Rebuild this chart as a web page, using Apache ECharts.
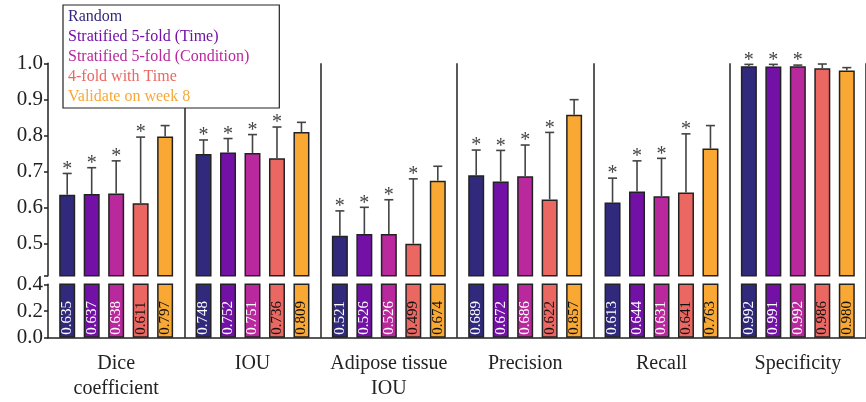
<!DOCTYPE html>
<html>
<head>
<meta charset="utf-8">
<script src="https://cdn.jsdelivr.net/npm/echarts@6/dist/echarts.min.js"></script>
<style>
  html, body { margin: 0; padding: 0; background: #fff; }
  #chart { width: 866px; height: 402px; }
</style>
</head>
<body>
<div id="chart"></div>
<script>
const categories = ['Dice\ncoefficient', 'IOU', 'Adipose tissue\nIOU', 'Precision', 'Recall', 'Specificity']
const seriesNames = ['Random', 'Stratified 5-fold (Time)', 'Stratified 5-fold (Condition)', '4-fold with Time', 'Validate on week 8']
const colors = ['#312a7c', '#7311a6', '#b9289c', '#eb6762', '#f9a834']
const labelColors = ['#fff', '#fff', '#fff', '#111', '#111']

// mean values per split strategy
const randomVals = [0.635, 0.748, 0.521, 0.689, 0.613, 0.992]
const timeVals = [0.637, 0.752, 0.526, 0.672, 0.644, 0.991]
const conditionVals = [0.638, 0.751, 0.526, 0.686, 0.631, 0.992]
const fourFoldVals = [0.611, 0.736, 0.499, 0.622, 0.641, 0.986]
const week8Vals = [0.797, 0.809, 0.674, 0.857, 0.763, 0.980]

// upper error bar lengths (std)
const randomSd = [0.059, 0.039, 0.069, 0.070, 0.068, 0.005]
const timeSd = [0.073, 0.039, 0.074, 0.086, 0.085, 0.006]
const conditionSd = [0.091, 0.051, 0.095, 0.087, 0.105, 0.003]
const fourFoldSd = [0.184, 0.087, 0.180, 0.186, 0.163, 0.012]
const week8Sd = [0.030, 0.027, 0.040, 0.042, 0.064, 0.008]

// significance markers (*)
const randomSig = [1, 1, 1, 1, 1, 1]
const timeSig = [1, 1, 1, 1, 1, 1]
const conditionSig = [1, 1, 1, 1, 1, 1]
const fourFoldSig = [1, 1, 1, 1, 1, 0]
const week8Sig = [0, 0, 0, 0, 0, 0]

const upperTicks = [0.5, 0.6, 0.7, 0.8, 0.9, 1.0]
const lowerTicks = [0, 0.2, 0.4]

const allVals = [randomVals, timeVals, conditionVals, fourFoldVals, week8Vals]
const allSd = [randomSd, timeSd, conditionSd, fourFoldSd, week8Sd]
const allSig = [randomSig, timeSig, conditionSig, fourFoldSig, week8Sig]

const FONT = 'Liberation Serif'
const INK = '#222'
const BAR_W = 16
const BAR_GAP = 0.53
const PITCH = BAR_W * (1 + BAR_GAP)

const chart = echarts.init(document.getElementById('chart'))

const errData = []
allVals.forEach((vals, s) => {
  vals.forEach((v, c) => errData.push([c, s, v, allSd[s][c], allSig[s][c]]))
})

const gridX = { left: 48, right: -10 }

const hiddenCat = (gridIndex) => ({
  gridIndex,
  type: 'category',
  data: categories,
  axisLine: { show: false },
  axisTick: { show: false },
  axisLabel: { show: false },
  splitLine: { show: false }
})

const barStyle = (s) => ({
  color: colors[s],
  borderColor: INK,
  borderWidth: 1.5
})

const series = []
allVals.forEach((vals, s) => {
  series.push({
    name: seriesNames[s],
    type: 'bar',
    xAxisIndex: 0,
    yAxisIndex: 0,
    barWidth: BAR_W,
    barGap: (BAR_GAP * 100) + '%',
    itemStyle: barStyle(s),
    data: vals
  })
  series.push({
    name: seriesNames[s],
    type: 'bar',
    xAxisIndex: 1,
    yAxisIndex: 1,
    barWidth: BAR_W,
    barGap: (BAR_GAP * 100) + '%',
    itemStyle: barStyle(s),
    label: {
      show: true,
      position: 'insideBottom',
      rotate: 90,
      align: 'left',
      verticalAlign: 'middle',
      distance: 3,
      fontFamily: FONT,
      fontSize: 15,
      color: labelColors[s],
      formatter: (p) => p.value.toFixed(3)
    },
    data: vals
  })
})

series.push({
  type: 'custom',
  xAxisIndex: 0,
  yAxisIndex: 0,
  z: 5,
  encode: { x: 0, y: 2 },
  renderItem: (params, api) => {
    const ci = api.value(0)
    const si = api.value(1)
    const v = api.value(2)
    const sd = api.value(3)
    const sig = api.value(4)
    const p0 = api.coord([ci, v])
    const p1 = api.coord([ci, v + sd])
    const x = p0[0] + (si - 2) * PITCH
    const ls = { stroke: '#444', lineWidth: 1.6 }
    const children = [
      { type: 'line', shape: { x1: x, y1: p0[1], x2: x, y2: p1[1] }, style: ls },
      { type: 'line', shape: { x1: x - 4.5, y1: p1[1], x2: x + 4.5, y2: p1[1] }, style: ls }
    ]
    if (sig) {
      children.push({
        type: 'text',
        x: x,
        y: p1[1] - 4,
        style: { text: '*', fill: '#444', font: '20px "Liberation Serif"', align: 'center', verticalAlign: 'middle' }
      })
    }
    return { type: 'group', children }
  },
  data: errData
})

const option = {
  animation: false,
  backgroundColor: '#fff',
  legend: {
    left: 63,
    top: 5,
    orient: 'vertical',
    icon: 'none',
    itemWidth: 0,
    itemHeight: 14,
    itemGap: 0,
    padding: [2, 30, 1, 0],
    borderColor: INK,
    borderWidth: 1.2,
    backgroundColor: '#fff',
    selectedMode: false,
    textStyle: { fontFamily: FONT, fontSize: 16, lineHeight: 20 },
    data: seriesNames.map((n, i) => ({ name: n, textStyle: { color: colors[i] } }))
  },
  grid: [
    { ...gridX, top: 63.3, height: 212.4 },
    { ...gridX, top: 284.3, height: 53.4 },
    { ...gridX, top: 63.3, height: 274.4 }
  ],
  xAxis: [
    hiddenCat(0),
    {
      gridIndex: 1,
      type: 'category',
      data: categories,
      axisLine: { lineStyle: { color: INK, width: 1.5 } },
      axisTick: { alignWithLabel: true, length: 8, lineStyle: { color: INK, width: 1.5 } },
      axisLabel: { fontFamily: FONT, fontSize: 20, lineHeight: 25, color: INK, margin: 14, interval: 0 }
    },
    {
      ...hiddenCat(2),
      splitLine: {
        show: true,
        interval: (i) => i > 0,
        lineStyle: { color: INK, width: 1.5 }
      }
    }
  ],
  yAxis: [
    {
      gridIndex: 0,
      type: 'value',
      min: 0.41,
      max: 1.0,
      axisLine: { show: true, lineStyle: { color: INK, width: 1.5 } },
      axisTick: { show: true, length: 4, customValues: [0.41].concat(upperTicks), lineStyle: { color: INK, width: 1.5 } },
      axisLabel: { customValues: upperTicks, formatter: (v) => v.toFixed(1), margin: 5, fontFamily: FONT, fontSize: 21, color: INK },
      splitLine: { show: false }
    },
    {
      gridIndex: 1,
      type: 'value',
      min: 0,
      max: 0.4,
      interval: 0.2,
      axisLine: { show: true, lineStyle: { color: INK, width: 1.5 } },
      axisTick: { show: true, length: 4, lineStyle: { color: INK, width: 1.5 } },
      axisLabel: { formatter: (v) => v.toFixed(1), margin: 5, fontFamily: FONT, fontSize: 21, color: INK },
      splitLine: { show: false }
    },
    { gridIndex: 2, type: 'value', show: false }
  ],
  series
}

chart.setOption(option)
</script>
</body>
</html>
